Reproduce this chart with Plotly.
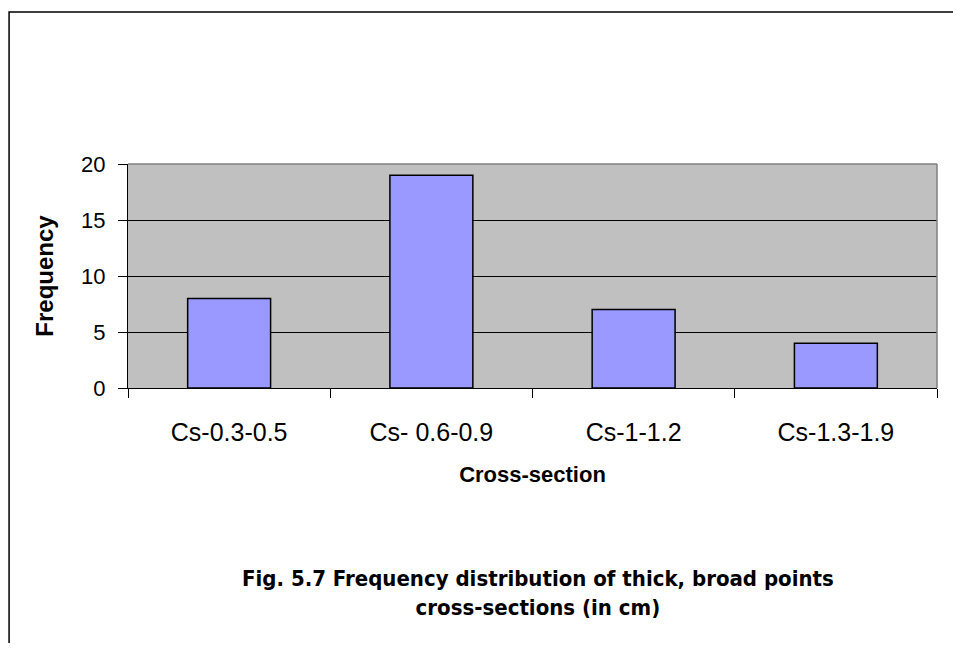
import plotly.graph_objects as go

categories = ["Cs-0.3-0.5", "Cs- 0.6-0.9", "Cs-1-1.2", "Cs-1.3-1.9"]
frequency = [8, 19, 7, 4]
y_ticks = [0, 5, 10, 15, 20]

OFF = 8  # page body margin offset
W, H = 961 - 2 * OFF, 651 - 2 * OFF
# target pixel positions in the screenshot
PL, PR, PT, PB = 128, 937.5, 164, 388
L = PL - OFF
T = PT - OFF
R = W - (PR - OFF)
B = H - (PB - OFF)
pw = W - L - R
ph = H - T - B

def px_x(p):
    return (p - OFF - L) / pw

def px_y(p):
    return (H - B - (p - OFF)) / ph

fig = go.Figure()
fig.add_trace(go.Bar(
    x=categories, y=frequency,
    marker=dict(color="#9999FF", line=dict(color="black", width=1.5)),
    showlegend=False,
))

font = "Arial, Liberation Sans, sans-serif"
fig.update_layout(
    width=W, height=H,
    margin=dict(l=L, r=R, t=T, b=B, pad=0),
    paper_bgcolor="white",
    plot_bgcolor="#C0C0C0",
    bargap=0.59,
    font=dict(family=font, color="black", size=20),
    xaxis=dict(
        type="category",
        tickson="boundaries",
        ticks="outside", ticklen=9, tickcolor="black", tickwidth=1,
        showline=True, linecolor="black", linewidth=1,
        showgrid=False,
        tickfont=dict(size=25, family=font),
        ticklabelstandoff=22,
        title=dict(text="<b>Cross-section</b>", font=dict(size=22, family=font), standoff=21),
    ),
    yaxis=dict(
        range=[0, 20],
        tickvals=y_ticks,
        ticks="outside", ticklen=9, tickcolor="black", tickwidth=1,
        showline=True, linecolor="black", linewidth=1,
        showgrid=True, gridcolor="black", gridwidth=1,
        zeroline=False,
        tickfont=dict(size=22, family=font),
        ticklabelstandoff=8,
        title=dict(text="<b>Frequency</b>", font=dict(size=24, family=font), standoff=20),
    ),
    shapes=[
        dict(type="line", xref="paper", yref="paper", x0=0, x1=1, y0=1, y1=1,
             line=dict(color="#808080", width=1.5), layer="above"),
        dict(type="line", xref="paper", yref="paper", x0=1, x1=1, y0=0, y1=1,
             line=dict(color="#808080", width=1.5), layer="above"),
        dict(type="rect", xref="paper", yref="paper",
             x0=px_x(9), x1=px_x(961 + 40), y0=px_y(651 + 40), y1=px_y(12),
             line=dict(color="black", width=1.5), layer="above"),
    ],
    annotations=[
        dict(text="<b>Fig. 5.7 Frequency distribution of thick, broad points</b><br><b>cross-sections (in cm)</b>",
             xref="paper", yref="paper", x=px_x(538), y=px_y(593),
             xanchor="center", yanchor="middle", showarrow=False,
             font=dict(size=22, family="Liberation Sans Narrow, DejaVu Sans Condensed, Arial Narrow, sans-serif"),
             align="center"),
    ],
)

fig.write_html("out.html")
